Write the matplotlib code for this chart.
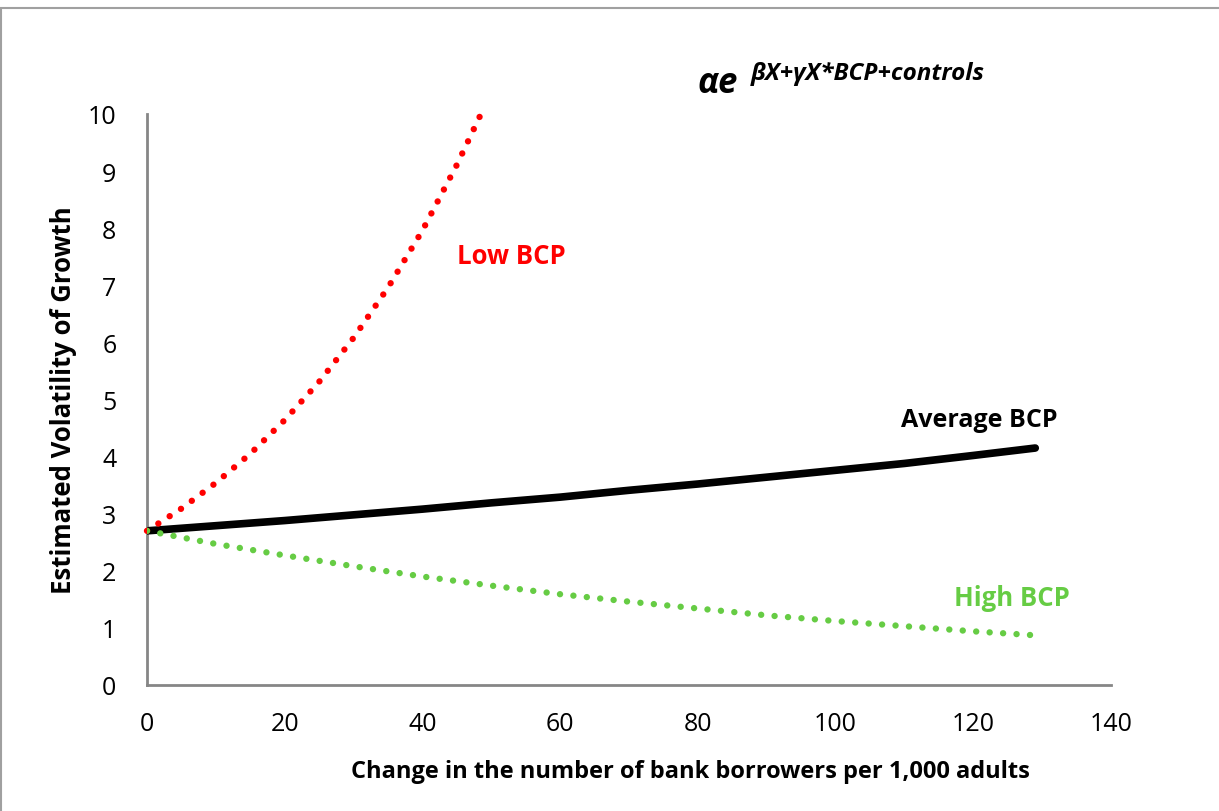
import matplotlib
matplotlib.use("Agg")
import matplotlib.pyplot as plt
from matplotlib.patches import Rectangle

plt.rcParams['font.family'] = ['Open Sans', 'DejaVu Sans']

# Data
low_x = [0, 5, 10, 15, 20, 25, 30, 35, 40, 45, 48.5]
low_y = [2.70, 3.09, 3.54, 4.05, 4.64, 5.31, 6.08, 6.96, 7.96, 9.11, 10.0]

avg_x = [0, 10, 20, 30, 40, 50, 60, 70, 80, 90, 100, 110, 120, 129]
avg_y = [2.70, 2.79, 2.88, 2.98, 3.08, 3.19, 3.29, 3.41, 3.52, 3.64, 3.76, 3.88, 4.02, 4.15]

high_x = [0, 10, 20, 30, 40, 50, 60, 70, 80, 90, 100, 110, 120, 129]
high_y = [2.70, 2.47, 2.27, 2.08, 1.90, 1.74, 1.59, 1.46, 1.34, 1.22, 1.12, 1.03, 0.94, 0.87]

x_ticks = [0, 20, 40, 60, 80, 100, 120, 140]
y_ticks = [0, 1, 2, 3, 4, 5, 6, 7, 8, 9, 10]

RED = '#ff0000'
GREEN = '#66cc44'
W, H = 1219, 812

fig = plt.figure(figsize=(12.19, 8.12), dpi=100)
ax = fig.add_axes([147/W, 1-686/H, (1111-147)/W, (686-115)/H])

ax.plot(avg_x, avg_y, color='black', lw=5.5, solid_capstyle='round', zorder=3)
ax.plot(low_x, low_y, color=RED, lw=4.6, linestyle=(0, (0.01, 2.1)),
        dash_capstyle='round', zorder=4, clip_on=False)
ax.plot(high_x, high_y, color=GREEN, lw=4.6, linestyle=(0, (0.01, 2.1)),
        dash_capstyle='round', zorder=4)

ax.set_xlim(0, 140)
ax.set_ylim(0, 10)
ax.set_xticks(x_ticks)
ax.set_yticks(y_ticks)
ax.tick_params(length=0, labelsize=18, colors='black')
ax.tick_params(axis='x', pad=19)
ax.tick_params(axis='y', pad=22)
for s in ['top', 'right']:
    ax.spines[s].set_visible(False)
for s in ['left', 'bottom']:
    ax.spines[s].set_color('#868686')
    ax.spines[s].set_linewidth(2)

ax.set_xlabel('Change in the number of bank borrowers per 1,000 adults',
              fontsize=17, fontweight='bold')
ax.xaxis.set_label_coords((690-147)/964, -(760-686)/571)
ax.set_ylabel('Estimated Volatility of Growth', fontsize=18.5,
              fontweight='bold')
ax.yaxis.set_label_coords(-(147-77)/964, 0.5)

def ptext(x, y, s, **kw):
    fig.text(x/W, 1-y/H, s, **kw)

ptext(511, 257, 'Low BCP', color=RED, fontsize=18.5, fontweight='bold',
      ha='center', va='center')
ptext(979, 421, 'Average BCP', color='black', fontsize=18, fontweight='bold',
      ha='center', va='center')
ptext(1012, 599, 'High BCP', color=GREEN, fontsize=18.5, fontweight='bold',
      ha='center', va='center')

# formula
ptext(697, 93, 'αe', fontsize=25, fontweight='bold', style='italic',
      ha='left', va='baseline')
ptext(751, 80, 'βX+γX*BCP+controls', fontsize=17.5, fontweight='bold',
      style='italic', ha='left', va='baseline')

# outer frame
fig.patches.append(Rectangle((0.5/W, -0.01), 1.2, 1 - 9/H + 0.01,
                             transform=fig.transFigure, fill=False,
                             edgecolor='#a0a0a0', lw=1.5))

fig.savefig('out.png', dpi=100)
